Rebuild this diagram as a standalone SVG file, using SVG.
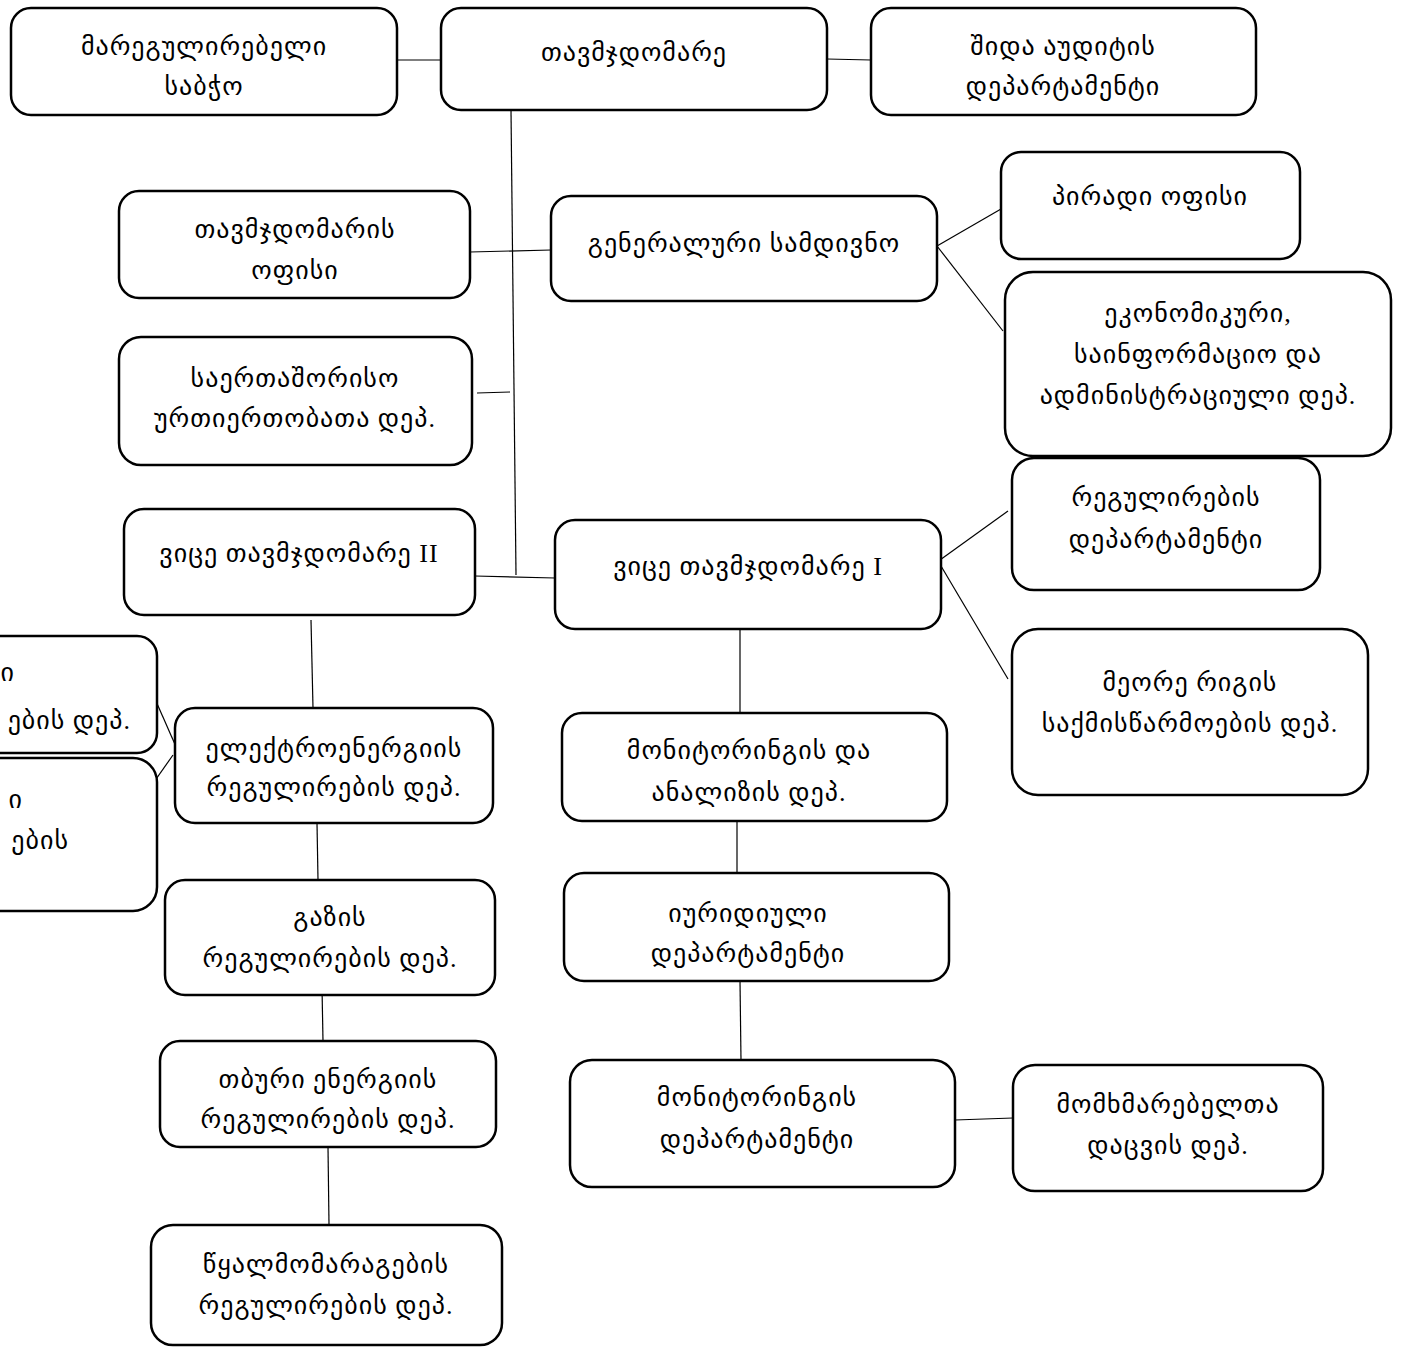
<svg xmlns="http://www.w3.org/2000/svg" width="1402" height="1347" viewBox="0 0 1402 1347">
<style>
.b{fill:#fff;stroke:#000;stroke-width:2.5}
.t{font-family:"Liberation Serif","DejaVu Sans",serif;font-size:26px;letter-spacing:1px;fill:#000;text-anchor:middle}
.te{font-family:"Liberation Serif","DejaVu Sans",serif;font-size:26px;letter-spacing:1px;fill:#000;text-anchor:end}
.c line{stroke:#000;stroke-width:1.2}
</style>
<rect width="1402" height="1347" fill="#fff"/>
<g class="c" id="connectors">
<line x1="397" y1="60" x2="441" y2="60"/>
<line x1="827" y1="59" x2="871" y2="60"/>
<line x1="511" y1="110" x2="516" y2="575"/>
<line x1="470" y1="252" x2="551" y2="250"/>
<line x1="937" y1="246" x2="1001" y2="209"/>
<line x1="937" y1="246" x2="1003" y2="331"/>
<line x1="477" y1="393" x2="510" y2="392"/>
<line x1="475" y1="576" x2="555" y2="578"/>
<line x1="933" y1="565" x2="1008" y2="511"/>
<line x1="941" y1="566" x2="1008" y2="679"/>
<line x1="311" y1="620" x2="313" y2="708"/>
<line x1="740" y1="629" x2="740" y2="713"/>
<line x1="144" y1="674" x2="181" y2="758"/>
<line x1="135" y1="809" x2="173" y2="755"/>
<line x1="317" y1="823" x2="318" y2="880"/>
<line x1="737" y1="821" x2="737" y2="873"/>
<line x1="322" y1="987" x2="323" y2="1041"/>
<line x1="740" y1="981" x2="741" y2="1060"/>
<line x1="955" y1="1120" x2="1013" y2="1118"/>
<line x1="328" y1="1147" x2="329" y2="1225"/>
</g>
<g id="n1"><rect class="b" x="11" y="8" width="386" height="107" rx="20"/><text class="t" x="204" y="55">მარეგულირებელი</text><text class="t" x="204" y="95">საბჭო</text></g>
<g id="n2"><rect class="b" x="441" y="8" width="386" height="102" rx="20"/><text class="t" x="634" y="61">თავმჯდომარე</text></g>
<g id="n3"><rect class="b" x="871" y="8" width="385" height="107" rx="20"/><text class="t" x="1063" y="55">შიდა აუდიტის</text><text class="t" x="1063" y="95">დეპარტამენტი</text></g>
<g id="n4"><rect class="b" x="1001" y="152" width="299" height="107" rx="20"/><text class="t" x="1150" y="205">პირადი ოფისი</text></g>
<g id="n5"><rect class="b" x="119" y="191" width="351" height="107" rx="20"/><text class="t" x="295" y="238">თავმჯდომარის</text><text class="t" x="295" y="279">ოფისი</text></g>
<g id="n6"><rect class="b" x="551" y="196" width="386" height="105" rx="20"/><text class="t" x="744" y="252">გენერალური სამდივნო</text></g>
<g id="n7"><rect class="b" x="1005" y="272" width="386" height="184" rx="28"/><text class="t" x="1198" y="322">ეკონომიკური,</text><text class="t" x="1198" y="363">საინფორმაციო და</text><text class="t" x="1198" y="404">ადმინისტრაციული დეპ.</text></g>
<g id="n8"><rect class="b" x="119" y="337" width="353" height="128" rx="22"/><text class="t" x="295" y="387">საერთაშორისო</text><text class="t" x="295" y="427">ურთიერთობათა დეპ.</text></g>
<g id="n9"><rect class="b" x="1012" y="458" width="308" height="132" rx="22"/><text class="t" x="1166" y="506">რეგულირების</text><text class="t" x="1166" y="548">დეპარტამენტი</text></g>
<g id="n10"><rect class="b" x="124" y="509" width="351" height="106" rx="20"/><text class="t" x="299" y="562">ვიცე თავმჯდომარე II</text></g>
<g id="n11"><rect class="b" x="555" y="520" width="386" height="109" rx="20"/><text class="t" x="748" y="575">ვიცე თავმჯდომარე I</text></g>
<g id="n12"><rect class="b" x="1012" y="629" width="356" height="166" rx="26"/><text class="t" x="1190" y="691">მეორე რიგის</text><text class="t" x="1190" y="732">საქმისწარმოების დეპ.</text></g>
<g id="n13"><rect class="b" x="-200" y="636" width="357" height="117" rx="20"/><text class="te" x="15" y="681">ი</text><text class="te" x="131" y="729">ების დეპ.</text></g>
<g id="n14"><rect class="b" x="-200" y="758" width="357" height="153" rx="24"/><text class="te" x="23" y="808">ი</text><text class="te" x="69" y="849">ების</text></g>
<g id="n15"><rect class="b" x="175" y="708" width="318" height="115" rx="20"/><text class="t" x="334" y="757">ელექტროენერგიის</text><text class="t" x="334" y="796">რეგულირების დეპ.</text></g>
<g id="n16"><rect class="b" x="562" y="713" width="385" height="108" rx="20"/><text class="t" x="749" y="759">მონიტორინგის და</text><text class="t" x="749" y="801">ანალიზის დეპ.</text></g>
<g id="n17"><rect class="b" x="165" y="880" width="330" height="115" rx="20"/><text class="t" x="330" y="926">გაზის</text><text class="t" x="330" y="967">რეგულირების დეპ.</text></g>
<g id="n18"><rect class="b" x="564" y="873" width="385" height="108" rx="20"/><text class="t" x="748" y="922">იურიდიული</text><text class="t" x="748" y="962">დეპარტამენტი</text></g>
<g id="n19"><rect class="b" x="160" y="1041" width="336" height="106" rx="20"/><text class="t" x="328" y="1088">თბური ენერგიის</text><text class="t" x="328" y="1128">რეგულირების დეპ.</text></g>
<g id="n20"><rect class="b" x="570" y="1060" width="385" height="127" rx="22"/><text class="t" x="757" y="1106">მონიტორინგის</text><text class="t" x="757" y="1148">დეპარტამენტი</text></g>
<g id="n21"><rect class="b" x="1013" y="1065" width="310" height="126" rx="22"/><text class="t" x="1168" y="1113">მომხმარებელთა</text><text class="t" x="1168" y="1154">დაცვის დეპ.</text></g>
<g id="n22"><rect class="b" x="151" y="1225" width="351" height="120" rx="22"/><text class="t" x="326" y="1273">წყალმომარაგების</text><text class="t" x="326" y="1314">რეგულირების დეპ.</text></g>
</svg>
